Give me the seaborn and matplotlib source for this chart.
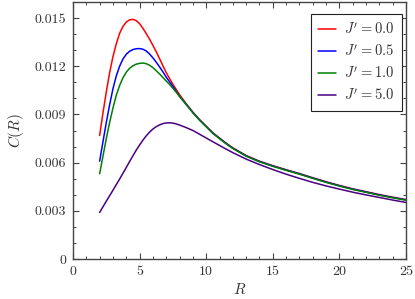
import matplotlib
matplotlib.use("Agg")
import matplotlib.pyplot as plt
import seaborn as sns
import pandas as pd
from matplotlib.ticker import MultipleLocator

R = [2, 2.25, 2.5, 2.75, 3, 3.25, 3.5, 3.75, 4, 4.25, 4.5, 4.75, 5, 5.25, 5.5,
     5.75, 6, 6.25, 6.5, 6.75, 7, 7.25, 7.5, 7.75, 8,
     8.5, 9, 9.5, 10, 10.5, 11, 11.5, 12,
     13, 14, 15, 16, 17, 18, 19, 20, 21, 22, 23, 24, 25]

c_j00 = [0.00769, 0.0091, 0.0104, 0.0116, 0.0126, 0.0134, 0.01405, 0.01448,
         0.01475, 0.01489, 0.01492, 0.01484, 0.01465, 0.01436, 0.01403, 0.01368,
         0.0133, 0.0129, 0.01247, 0.01203, 0.0116, 0.01123, 0.01088, 0.01055,
         0.01023,
         0.00966, 0.00914, 0.00868, 0.00827, 0.00786, 0.00753, 0.00721, 0.00692,
         0.00644, 0.00609, 0.00581, 0.00556, 0.00532, 0.00506, 0.00481, 0.00458,
         0.00437, 0.00419, 0.00401, 0.00385, 0.0037]
c_j05 = [0.00609, 0.0073, 0.0085, 0.0096, 0.0106, 0.0114, 0.012, 0.01245,
         0.01275, 0.01293, 0.01304, 0.01309, 0.0131, 0.01306, 0.01295, 0.01276,
         0.01252, 0.01225, 0.01196, 0.01165, 0.01132, 0.01103, 0.01074, 0.01043,
         0.01013,
         0.00963, 0.00912, 0.00866, 0.00825, 0.00784, 0.00751, 0.00719, 0.0069,
         0.00642, 0.00607, 0.00579, 0.00554, 0.0053, 0.00504, 0.00479, 0.00456,
         0.00435, 0.00417, 0.00399, 0.00383, 0.00368]
c_j10 = [0.00531, 0.0064, 0.0075, 0.0085, 0.0094, 0.0102, 0.0108, 0.01128,
         0.01163, 0.01187, 0.01203, 0.01213, 0.01218, 0.0122, 0.01216, 0.01206,
         0.01191, 0.01172, 0.01152, 0.0113, 0.01108, 0.01087, 0.01063, 0.01038,
         0.01012,
         0.00961, 0.0091, 0.00864, 0.00823, 0.00782, 0.00749, 0.00717, 0.00688,
         0.0064, 0.00605, 0.00577, 0.00552, 0.00528, 0.00502, 0.00477, 0.00454,
         0.00433, 0.00415, 0.00397, 0.00381, 0.00366]
c_j50 = [0.0029, 0.00325, 0.0036, 0.00394, 0.00428, 0.00463, 0.00498, 0.00534,
         0.0057, 0.00607, 0.00643, 0.00678, 0.0071, 0.0074, 0.00767, 0.0079,
         0.00809, 0.00824, 0.00835, 0.00843, 0.00847, 0.00848, 0.00846, 0.00841,
         0.00834,
         0.00818, 0.008, 0.00777, 0.00753, 0.0073, 0.00707, 0.00684, 0.00662,
         0.00622, 0.00588, 0.00557, 0.00528, 0.00502, 0.00477, 0.00455, 0.00435,
         0.00416, 0.00399, 0.00383, 0.00367, 0.00352]

labels = [r"$J^\prime = 0.0$", r"$J^\prime = 0.5$", r"$J^\prime = 1.0$", r"$J^\prime = 5.0$"]
colors = ["#ff0000", "#0000ff", "#007f00", "#4b0082"]

x_ticks = [0, 5, 10, 15, 20, 25]
y_ticks = [0, 0.003, 0.006, 0.009, 0.012, 0.015]
y_tick_labels = ["0", "0.003", "0.006", "0.009", "0.012", "0.015"]

frames = []
for lab, vals in zip(labels, [c_j00, c_j05, c_j10, c_j50]):
    frames.append(pd.DataFrame({"R": R, "C": vals, "J": lab}))
df = pd.concat(frames, ignore_index=True)

sns.set_style("ticks")
plt.rcParams["font.family"] = ["cmr10", "DejaVu Serif"]
plt.rcParams["mathtext.fontset"] = "cm"
plt.rcParams["axes.unicode_minus"] = False

fig = plt.figure(figsize=(4.15, 2.99), dpi=100)
ax = fig.add_axes([73 / 415, 1 - 259 / 299, 333 / 415, 257 / 299])

sns.lineplot(data=df, x="R", y="C", hue="J", palette=colors, linewidth=1.1,
             ax=ax, legend=True)

ax.set_xlim(0, 25)
ax.set_ylim(0, 0.016)
ax.set_xticks(x_ticks)
ax.set_xticklabels([str(t) for t in x_ticks])
ax.set_yticks(y_ticks)
ax.set_yticklabels(y_tick_labels)
ax.xaxis.set_minor_locator(MultipleLocator(1))
ax.yaxis.set_minor_locator(MultipleLocator(0.001))

text_color = "#333333"
spine_color = "#444444"
for s in ax.spines.values():
    s.set_color(spine_color)
    s.set_linewidth(1.0)
ax.tick_params(which="both", direction="in", top=True, right=True,
               colors=spine_color, labelcolor=text_color, labelsize=10)
ax.tick_params(which="major", length=4, width=0.8)
ax.tick_params(which="minor", length=2.2, width=0.7)
ax.tick_params(axis="x", which="major", pad=5)
ax.tick_params(axis="y", which="major", pad=5)

ax.set_xlabel(r"$R$", fontsize=11, color=text_color, labelpad=3)
ax.set_ylabel(r"$C(R)$", fontsize=11, color=text_color, labelpad=6)

leg = ax.legend(loc="upper right", bbox_to_anchor=(0.988, 0.953), borderaxespad=0,
                fancybox=False, framealpha=1, edgecolor="#222222", fontsize=10.5,
                handlelength=1.2, handletextpad=0.6, labelspacing=0.42,
                borderpad=0.5, title=None)
leg.get_frame().set_linewidth(0.8)
for t in leg.get_texts():
    t.set_color(text_color)

fig.savefig("out.png", dpi=100)
